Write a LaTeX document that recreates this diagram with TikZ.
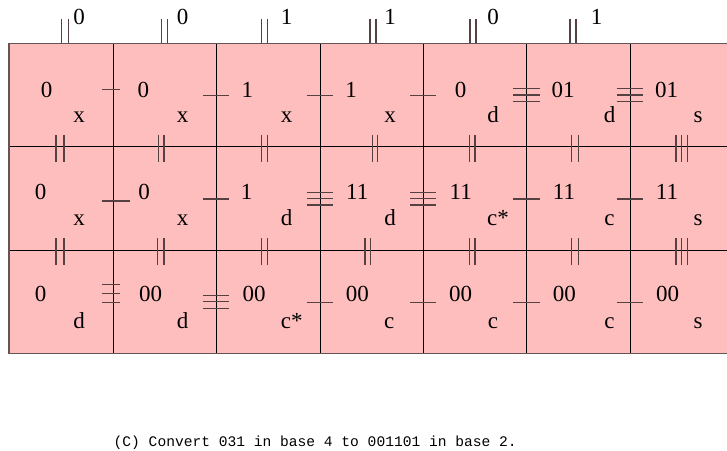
\documentclass[tikz,border=0pt]{standalone}
\usepackage{fontspec}
\setmainfont{Liberation Serif}
\newfontfamily\capfont{Liberation Mono}
\definecolor{cellpink}{RGB}{255,190,190}
\definecolor{edgegray}{RGB}{100,84,84}
\definecolor{markcol}{RGB}{85,65,65}
\begin{document}
\begin{tikzpicture}[x=1pt,y=-1pt,
  numtxt/.style={anchor=base,inner sep=0pt,font=\fontsize{23}{27}\selectfont},
  labtxt/.style={anchor=base,inner sep=0pt,font=\fontsize{23}{27}\selectfont},
  captxt/.style={anchor=base west,inner sep=0pt,font=\capfont\fontsize{14.6}{17}\selectfont},
  gridln/.style={draw=black,line width=0.9pt},
  outerln/.style={draw=edgegray,line width=1.3pt},
  markln/.style={draw=markcol,line width=1.2pt}]
\path[use as bounding box] (0,0) rectangle (727,450);
% cells background
\fill[cellpink] (9,43.3) rectangle (727,353.3);
% inner lines
\foreach \cx in {113,216.7,320,423.3,526.7,630.7}
  \draw[gridln] (\cx,43.3) -- (\cx,353.3);
\foreach \ry in {146.7,250}
  \draw[gridln] (9,\ry) -- (727,\ry);
% outer border (open on the right, cut by the page)
\draw[outerln] (727,43.3) -- (9,43.3) -- (9,353.3) -- (727,353.3);
% top marks
\foreach \mx in {61.7,68.3,161.7,167.7,261.7,267.3,370,376,470,476,570,576}
  \draw[markln] (\mx,19.3) -- (\mx,43.3);
% marks across the horizontal edges
\foreach \mx in {56,64,158.3,164,261.7,267.3,372.7,377.3,469.3,475,571.7,578.3,676,681.7,687.3}
  \draw[markln] (\mx,135) -- (\mx,162);
\foreach \mx in {56,64,157.3,164,261.7,267.3,365,370.7,469.3,475,571.7,578.3,676,681.7,687.3}
  \draw[markln] (\mx,238) -- (\mx,265);
% marks across the vertical edges: x1/x2/y
\foreach \ax/\bx/\my in {101.7/120/89.3, 203.3/229.3/95.7, 306.7/332.7/95.7, 410/436/95.7,
  513.3/540/88.3, 513.3/540/95, 513.3/540/101.7, 616.7/643.3/88.3, 616.7/643.3/95, 616.7/643.3/101.7,
  101.7/130/201, 203.3/229.3/199, 306.7/332.7/192.3, 306.7/332.7/198.3, 306.7/332.7/205,
  410/436/192.3, 410/436/198.3, 410/436/205, 513.3/540/199, 616.7/643.3/199,
  101.7/120/284.3, 101.7/120/293.3, 101.7/120/302.7, 203.3/229.3/295.7, 203.3/229.3/301.7, 203.3/229.3/308.3,
  306.7/332.7/302.3, 410/436/302.3, 513.3/540/302.3, 616.7/643.3/302.3}
  \draw[markln] (\ax,\my) -- (\bx,\my);
% top labels
\foreach \tx/\tt/\nm in {79/0/t1, 182.7/0/t2, 286.7/1/t3, 390/1/t4, 493/0/t5, 596.7/1/t6}
  \node[numtxt] (\nm) at (\tx,24) {\tt};
% row 1
\foreach \tx/\tt/\nm in {46.7/0/na1, 143.3/0/na2, 247.3/1/na3, 351/1/na4, 460.7/0/na5, 563/01/na6, 666.7/01/na7}
  \node[numtxt] (\nm) at (\tx,97.3) {\tt};
\foreach \tx/\tt/\nm in {79/x/la1, 182.7/x/la2, 286.7/x/la3, 390/x/la4, 493/d/la5, 609.5/d/la6, 698/s/la7}
  \node[labtxt] (\nm) at (\tx,122) {\tt};
% row 2
\foreach \tx/\tt/\nm in {40.7/0/nb1, 144/0/nb2, 246.7/1/nb3, 357.3/11/nb4, 460.7/11/nb5, 564/11/nb6, 667/11/nb7}
  \node[numtxt] (\nm) at (\tx,199.3) {\tt};
\foreach \tx/\tt/\nm in {79/x/lb1, 182.7/x/lb2, 286.7/d/lb3, 390/d/lb4, 498/c*/lb5, 609.5/c/lb6, 698/s/lb7}
  \node[labtxt] (\nm) at (\tx,225) {\tt};
% row 3
\foreach \tx/\tt/\nm in {40.7/0/nc1, 150.7/00/nc2, 254/00/nc3, 357.3/00/nc4, 460.7/00/nc5, 564.3/00/nc6, 667.7/00/nc7}
  \node[numtxt] (\nm) at (\tx,301.7) {\tt};
\foreach \tx/\tt/\nm in {79/d/lc1, 182.7/d/lc2, 291.7/c*/lc3, 389.3/c/lc4, 493/c/lc5, 609.5/c/lc6, 698/s/lc7}
  \node[labtxt] (\nm) at (\tx,328.3) {\tt};
% caption
\node[captxt] (cap) at (113.5,446.5) {(C) Convert 031 in base 4 to 001101 in base 2.};
\end{tikzpicture}
\end{document}
